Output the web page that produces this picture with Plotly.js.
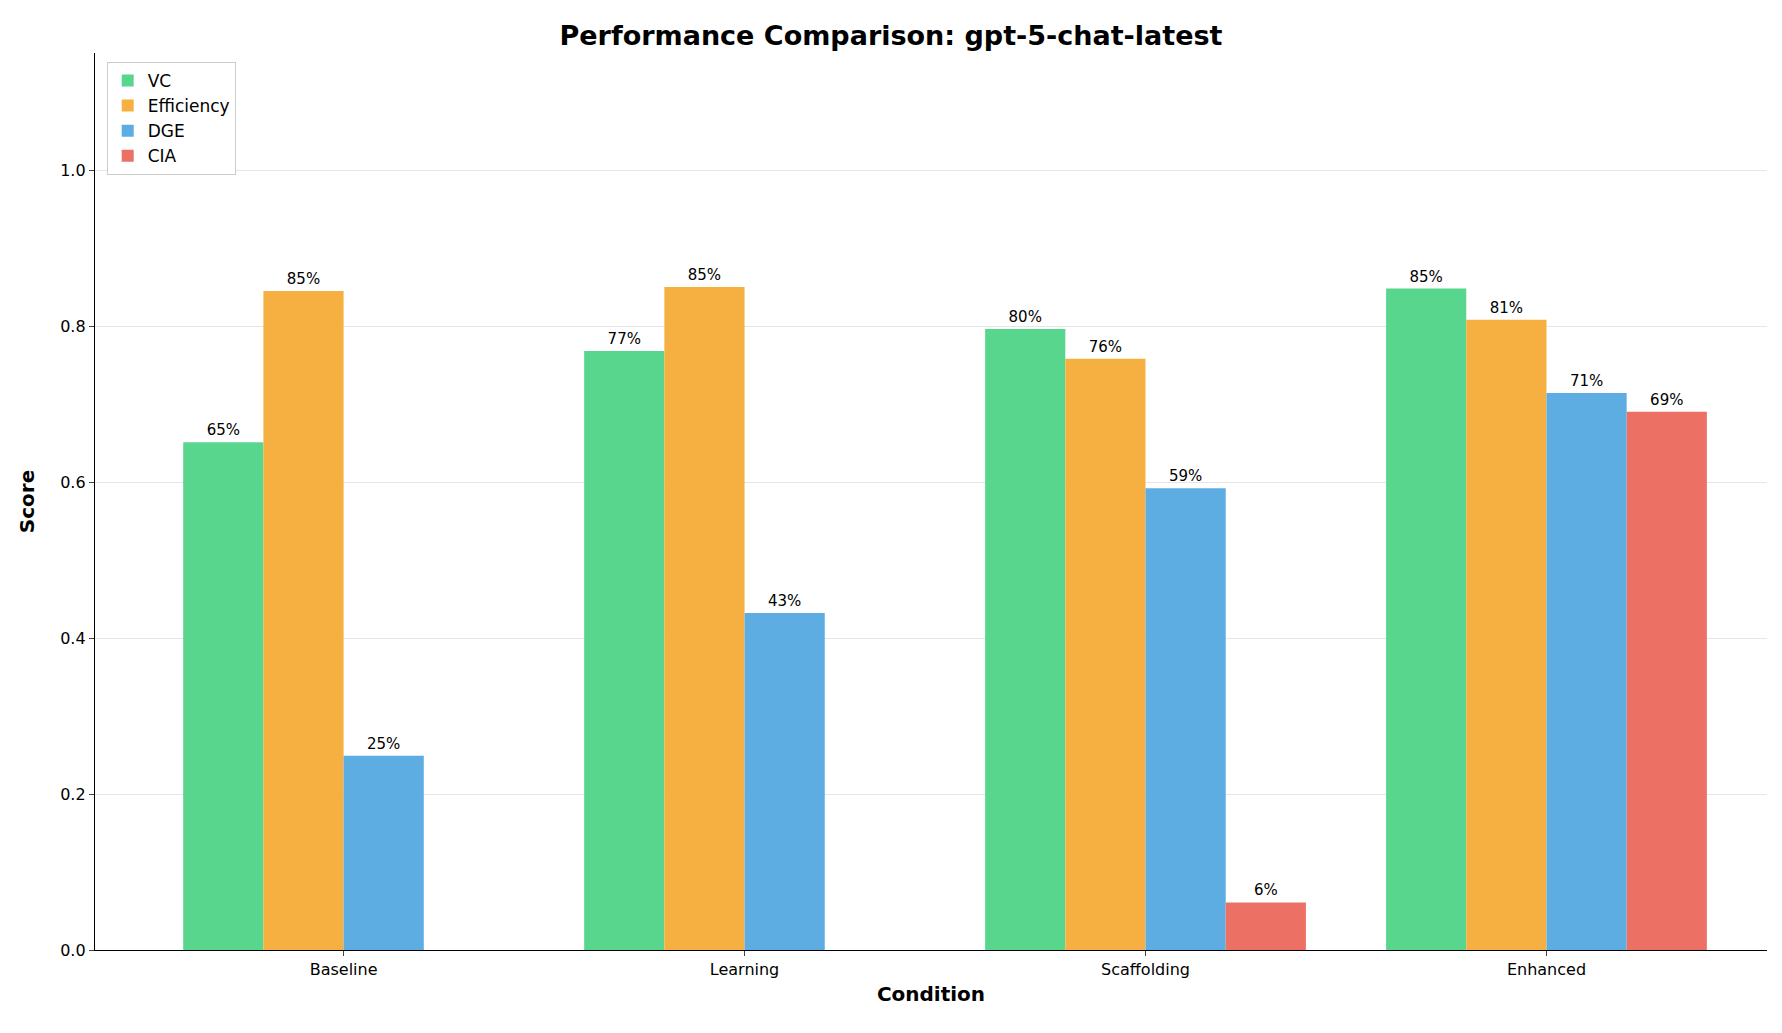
<!DOCTYPE html>
<html>
<head>
<meta charset="utf-8">
<script src="https://cdn.plot.ly/plotly-3.0.1.min.js"></script>
<style>body{margin:0;background:#fff}#chart{width:1782px;height:1033px}</style>
</head>
<body>
<div id="chart"></div>
<script>
const conditions = ["Baseline", "Learning", "Scaffolding", "Enhanced"];
const seriesNames = ["VC", "Efficiency", "DGE", "CIA"];
const vc = [0.651, 0.768, 0.796, 0.848];
const efficiency = [0.845, 0.850, 0.758, 0.808];
const dge = [0.249, 0.432, 0.592, 0.714];
const cia = [null, null, 0.061, 0.690];
const colors = ["#58d68d", "#f5b041", "#5dade2", "#ec7063"];

const data = [vc, efficiency, dge, cia].map((vals, i) => ({
    x: conditions,
    y: vals,
    name: seriesNames[i],
    type: 'bar',
    marker: {color: colors[i]},
    text: vals.map(v => v == null ? '' : Math.round(v * 100) + '%'),
    textposition: 'outside',
    cliponaxis: false,
    textfont: {size: 15, color: '#000'},
    hoverinfo: 'x+y+name'
}));

const layout = {
    width: 1782,
    height: 1033,
    font: {family: 'DejaVu Sans', size: 16, color: '#000'},
    title: {text: '<b>Performance Comparison: gpt-5-chat-latest</b>', x: 0.5, y: 0.975, font: {size: 27}},
    margin: {l: 95, r: 15, t: 53, b: 83},
    barmode: 'group',
    bargap: 0.2,
    bargroupgap: 0,
    plot_bgcolor: '#fff',
    paper_bgcolor: '#fff',
    xaxis: {
        title: {text: '<b>Condition</b>', font: {size: 20}, standoff: 8},
        showline: true, linecolor: '#000', linewidth: 1.3,
        ticks: 'outside', ticklen: 5, range: [-0.62, 3.55]
    },
    yaxis: {
        title: {text: '<b>Score</b>', font: {size: 20}, standoff: 20},
        range: [0, 1.15], dtick: 0.2, tickformat: '.1f',
        showline: true, linecolor: '#000', linewidth: 1.3,
        ticks: 'outside', ticklen: 5,
        gridcolor: '#e6e6e6', zeroline: false
    },
    legend: {
        x: 0.007, y: 0.99, xanchor: 'left', yanchor: 'top',
        bordercolor: '#ccc', borderwidth: 1, bgcolor: '#fff',
        font: {size: 17}
    },
    showlegend: true
};

Plotly.newPlot('chart', data, layout, {displayModeBar: false});
</script>
</body>
</html>
